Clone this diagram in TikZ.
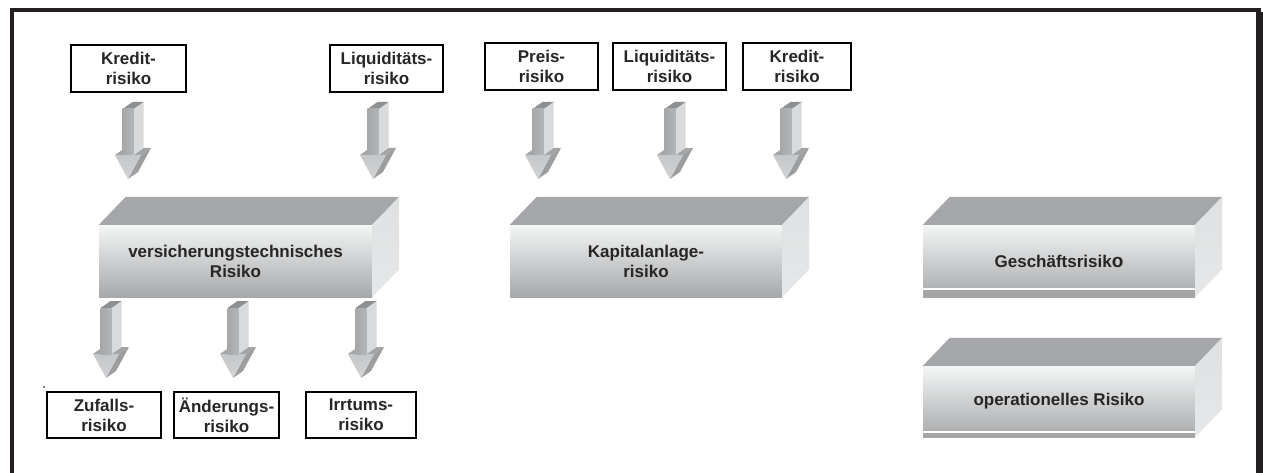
\documentclass[tikz,border=0pt]{standalone}
\usepackage{fontspec}
\setmainfont{Liberation Sans}
\usetikzlibrary{calc}

\definecolor{frameink}{HTML}{231F20}
\definecolor{facetop}{HTML}{A5A6A9}
\definecolor{facefrontT}{HTML}{F4F5F5}
\definecolor{facefrontB}{HTML}{A7A8AA}
\definecolor{faceside}{HTML}{DFE0E1}
\definecolor{facesideB}{HTML}{E6E7E8}
\definecolor{stripgrey}{HTML}{A4A5A7}
\definecolor{arrowfront}{HTML}{B4B5B7}
\definecolor{arrowfrontL}{HTML}{A6A7A9}
\definecolor{arrowside}{HTML}{D9DADB}
\definecolor{arrowcap}{HTML}{8E8F91}
\definecolor{arrowhead}{HTML}{C6C7C9}
\definecolor{arrowheadT}{HTML}{D2D3D4}
\definecolor{arrowfacet}{HTML}{9C9D9F}
\definecolor{arrowshelf}{HTML}{A3A4A6}

\newcommand{\boxfont}{\fontsize{17}{20}\selectfont\bfseries}

\tikzset{
  x=1pt, y=-1pt,
  smallbox/.style={draw=black, line width=2pt, fill=white, inner sep=0pt,
    align=center, font=\boxfont, text=black!85},
  frontface/.style={inner sep=0pt, top color=facefrontT, bottom color=facefrontB,
    align=center, font=\boxfont, text=black!85},
  topface/.style={fill=facetop},
  sideface/.style={top color=faceside, bottom color=facesideB},
  % three-dimensional block arrow pointing downwards; origin = top of its cap
  pics/blockarrow/.style={code={
    % shelf of the head, left and right of the shaft
    \fill[arrowshelf] (-13,53) -- (-5.5,53) -- (4.5,46) -- (-3,46) -- cycle;
    \fill[arrowshelf] (5.5,53) -- (13,53) -- (23,46) -- (15.5,46) -- cycle;
    % right facet of the head
    \fill[arrowfacet] (13,53) -- (23,46) -- (10,70) -- (0,77) -- cycle;
    % front of the head
    \shade[top color=arrowhead, bottom color=arrowheadT]
      (-13,53) -- (13,53) -- (0,77) -- cycle;
    % side of the shaft
    \fill[arrowside] (5.5,7) -- (15.5,0) -- (15.5,46) -- (5.5,53) -- cycle;
    % cap of the shaft
    \fill[arrowcap] (-5.5,7) -- (5.5,7) -- (15.5,0) -- (4.5,0) -- cycle;
    % front of the shaft
    \shade[left color=arrowfrontL, right color=arrowfront]
      (-5.5,7) rectangle (5.5,53);
  }}
}

\begin{document}
\begin{tikzpicture}
\useasboundingbox (0,0) rectangle (1263,473);
\fill[white] (0,0) rectangle (1263,473);

% outer frame: top, left and right bars
\fill[frameink] (10,8) rectangle (1261,12);
\fill[frameink] (10,8) rectangle (13.5,473);
\fill[frameink] (1256,12) rectangle (1263,473);

% ---------- insurance-technical risk ----------
\node[smallbox, minimum width=115pt, minimum height=47pt] (kred1) at (128.5,68.5) {Kredit-\\risiko};
\node[smallbox, minimum width=113pt, minimum height=47pt] (liq1) at (386.5,68.5) {Liquiditäts-\\risiko};

\pic at (128,102) {blockarrow};
\pic at (373,102) {blockarrow};

\node[frontface, minimum width=273pt, minimum height=72pt] (vt) at (235.5,261)
  {versicherungstechnisches\\Risiko};
\fill[topface] (vt.north west) -- ++(27,-28) -- ($(vt.north east)+(27,-28)$) -- (vt.north east) -- cycle;
\shade[sideface] (vt.north east) -- ++(27,-28) -- ($(vt.south east)+(27,-28)$) -- (vt.south east) -- cycle;

\pic at (106,301) {blockarrow};
\pic at (233,301) {blockarrow};
\pic at (361,301) {blockarrow};

\fill[black] (44,387) circle (0.9);
\node[smallbox, minimum width=114pt, minimum height=46pt] (zuf) at (104,415) {Zufalls-\\risiko};
\node[smallbox, minimum width=105pt, minimum height=46pt] (aend) at (226.5,415) {Änderungs-\\risiko};
\node[smallbox, minimum width=110pt, minimum height=46pt] (irr) at (361,415) {Irrtums-\\risiko};

% ---------- investment risk ----------
\node[smallbox, minimum width=113pt, minimum height=47pt] (preis) at (541.5,66.5) {Preis-\\risiko};
\node[smallbox, minimum width=113pt, minimum height=47pt] (liq2) at (669.5,66.5) {Liquiditäts-\\risiko};
\node[smallbox, minimum width=108pt, minimum height=47pt] (kred2) at (797,66.5) {Kredit-\\risiko};

\pic at (538,102) {blockarrow};
\pic at (670,102) {blockarrow};
\pic at (786,102) {blockarrow};

\node[frontface, minimum width=272pt, minimum height=72pt] (ka) at (646,261)
  {Kapitalanlage-\\risiko};
\fill[topface] (ka.north west) -- ++(27,-28) -- ($(ka.north east)+(27,-28)$) -- (ka.north east) -- cycle;
\shade[sideface] (ka.north east) -- ++(27,-28) -- ($(ka.south east)+(27,-28)$) -- (ka.south east) -- cycle;

% ---------- business risk ----------
\node[frontface, minimum width=272pt, minimum height=72pt] (gs) at (1059,261)
  {Geschäftsrisik{\fontsize{19}{20}\selectfont o}};
\fill[topface] (gs.north west) -- ++(27,-28) -- ($(gs.north east)+(27,-28)$) -- (gs.north east) -- cycle;
\shade[sideface] (gs.north east) -- ++(27,-28) -- ($(gs.south east)+(27,-28)$) -- (gs.south east) -- cycle;
\fill[white] ($(gs.south west)+(0,-9)$) rectangle ($(gs.south east)+(0,-7)$);
\fill[stripgrey] ($(gs.south west)+(1,-7)$) rectangle (gs.south east);

% ---------- operational risk ----------
\node[frontface, minimum width=272pt, minimum height=71pt] (op) at (1059,401.5)
  {operationelles Risiko};
\fill[topface] (op.north west) -- ++(27,-28) -- ($(op.north east)+(27,-28)$) -- (op.north east) -- cycle;
\shade[sideface] (op.north east) -- ++(27,-28) -- ($(op.south east)+(27,-28)$) -- (op.south east) -- cycle;
\fill[white] ($(op.south west)+(0,-6)$) rectangle ($(op.south east)+(0,-4)$);
\fill[stripgrey] ($(op.south west)+(1,-4)$) rectangle (op.south east);
\end{tikzpicture}
\end{document}
